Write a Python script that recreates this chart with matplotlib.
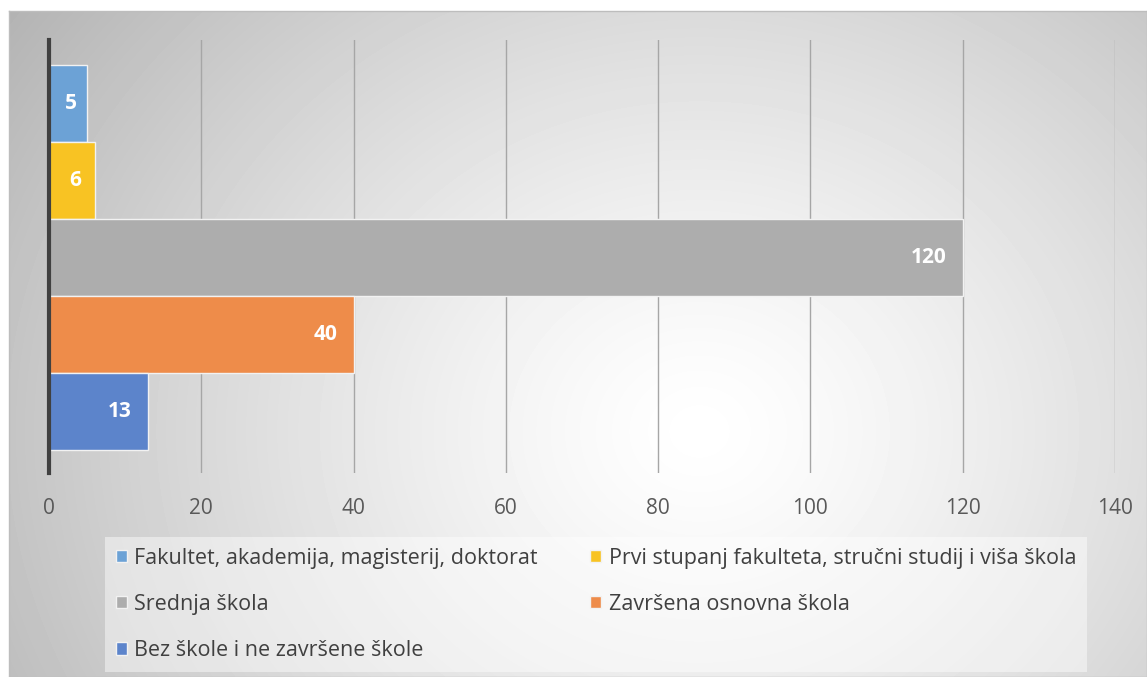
import numpy as np
import matplotlib.pyplot as plt

plt.rcParams['font.family'] = ['Open Sans', 'DejaVu Sans']

# data
labels = ['Fakultet, akademija, magisterij, doktorat',
          'Prvi stupanj fakulteta, stručni studij i viša škola',
          'Srednja škola',
          'Završena osnovna škola',
          'Bez škole i ne završene škole']
values = [5, 6, 120, 40, 13]
colors = ['#6CA2D6', '#F8C323', '#ADADAD', '#EE8C4A', '#5C84CB']
xticks = [0, 20, 40, 60, 80, 100, 120, 140]

W, H = 1147, 677
fig = plt.figure(figsize=(W/100, H/100), dpi=100)

# background with radial gradient (chart area frame)
bg = fig.add_axes([9/W, 0, (W-9)/W, (H-11)/H])
yy, xx = np.mgrid[0:H-11, 0:W-9]
cx, cy = 690, 420
r = np.sqrt((xx-cx)**2 + ((yy-cy)*1.15)**2) / 760
shade = 1 - 0.26*np.clip(r, 0, 1.3)**1.3
bg.imshow(shade, cmap='gray', vmin=0, vmax=1, aspect='auto', interpolation='bilinear')
bg.set_xticks([]); bg.set_yticks([])
for s in bg.spines.values():
    s.set_color('#bdbdbd'); s.set_linewidth(1)

ax = fig.add_axes([49/W, (H-473)/H, (1115-49)/W, (473-40)/H])
ax.patch.set_alpha(0)

h = 77/433
gap = 25/433
for i, (lab, v, c) in enumerate(zip(labels, values, colors)):
    yc = 1 - gap - (i+0.5)*h
    ax.barh(yc, v, height=h, color=c, edgecolor='#f2f2f2', linewidth=1, label=lab, zorder=3)
    if v*1066/140 < 60:
        ax.annotate(str(v), (v/2, yc), xytext=(3, 0), textcoords='offset pixels',
                    ha='center', va='center', color='white', fontweight='bold', fontsize=15, zorder=4)
    else:
        ax.annotate(str(v), (v, yc), xytext=(-16, 0), textcoords='offset pixels',
                    ha='right', va='center', color='white', fontweight='bold', fontsize=15, zorder=4)

ax.set_xlim(0, 140)
ax.set_ylim(0, 1)
ax.set_xticks(xticks)
ax.set_yticks([])
ax.grid(axis='x', color='#a6a6a6', lw=1, zorder=0)
for s in ['top', 'right', 'bottom']:
    ax.spines[s].set_visible(False)
ax.spines['left'].set_color('#404040')
ax.spines['left'].set_linewidth(3)
ax.spines['left'].set_zorder(5)
ax.tick_params(axis='x', length=0, pad=18, labelsize=15, labelcolor='#595959')

# legend, row-major order in 2 columns
hs, ls = ax.get_legend_handles_labels()
order = [0, 2, 4, 1, 3]
leg = fig.legend([hs[k] for k in order], [ls[k] for k in order], ncol=2,
                 loc='upper left', bbox_to_anchor=(105/W, 1 - 537/H), borderaxespad=0,
                 frameon=True, fontsize=15.5, labelcolor='#404040',
                 handlelength=0.5, handleheight=0.5, handletextpad=0.35,
                 columnspacing=2.45, labelspacing=1.17, borderpad=0.5)
leg.get_frame().set_facecolor('white')
leg.get_frame().set_alpha(0.45)
leg.get_frame().set_linewidth(0)
leg.get_frame().set_boxstyle('square', pad=0)

fig.savefig('out.png', dpi=100)
